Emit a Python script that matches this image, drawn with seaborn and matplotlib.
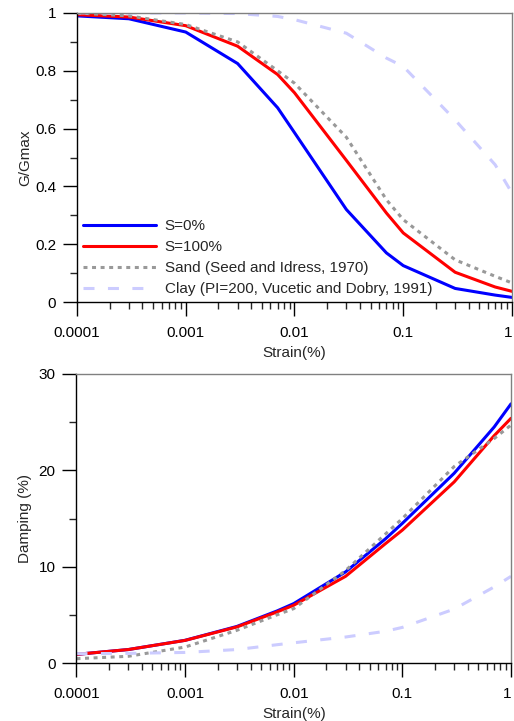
import numpy as np
import pandas as pd
import seaborn as sns
import matplotlib.pyplot as plt
import matplotlib.transforms as mtransforms
from matplotlib.ticker import FuncFormatter, MultipleLocator, LogLocator

# strain levels (%)
strain = [0.0001, 0.0003, 0.001, 0.003, 0.007, 0.01, 0.03, 0.07, 0.1, 0.3, 0.7, 1]

# G/Gmax curves
g_s0 = [0.99, 0.98, 0.934, 0.825, 0.672, 0.586, 0.32, 0.17, 0.126, 0.047, 0.024, 0.016]
g_s100 = [0.994, 0.986, 0.956, 0.885, 0.787, 0.724, 0.49, 0.308, 0.239, 0.103, 0.052, 0.037]
g_sand = [1.0, 0.99, 0.96, 0.90, 0.80, 0.757, 0.57, 0.354, 0.285, 0.146, 0.089, 0.066]
g_clay = [1.0, 1.0, 1.0, 0.998, 0.988, 0.977, 0.93, 0.844, 0.815, 0.63, 0.475, 0.377]

# damping curves (%)
d_s0 = [0.9, 1.4, 2.36, 3.8, 5.4, 6.17, 9.46, 12.9, 14.5, 19.7, 24.5, 26.9]
d_s100 = [0.9, 1.4, 2.35, 3.75, 5.3, 6.0, 9.0, 12.4, 13.8, 18.8, 23.6, 25.4]
d_sand = [0.45, 0.7, 1.66, 3.4, 5.0, 5.65, 9.6, 13.4, 15.0, 20.4, 23.3, 24.7]
d_clay = [0.97, 1.0, 1.1, 1.4, 1.9, 2.1, 2.7, 3.3, 3.7, 5.6, 7.9, 9.0]

labels = ["S=0%", "S=100%", "Sand (Seed and Idress, 1970)",
          "Clay (PI=200, Vucetic and Dobry, 1991)"]

sns.set_style("ticks")
plt.rcParams['font.family'] = ['Liberation Sans', 'DejaVu Sans']
plt.rcParams['font.size'] = 11

styles = [
    dict(color="#0000ff", linestyle="-"),
    dict(color="#ff0000", linestyle="-"),
    dict(color="#999999", linestyle=(0, (1.3, 1.5))),
    dict(color="#ccccff", linestyle=(0, (3.6, 4.4))),
]

fig = plt.figure(figsize=(5.14, 7.21), dpi=100)
ax1 = fig.add_axes([0.1498, 0.5811, 0.8463, 0.4009])
ax2 = fig.add_axes([0.1488, 0.0804, 0.8454, 0.4009])


def style_axis(ax, ylim, ymajor, yminor):
    ax.set_xscale("log")
    ax.set_xlim(0.0001, 1)
    ax.set_ylim(*ylim)
    ax.yaxis.set_major_locator(MultipleLocator(ymajor))
    ax.yaxis.set_minor_locator(MultipleLocator(yminor))
    ax.xaxis.set_major_locator(LogLocator(base=10))
    ax.xaxis.set_minor_locator(LogLocator(base=10, subs=np.arange(2, 10)))
    fmt = FuncFormatter(lambda v, p: "{:g}".format(round(v, 6)))
    ax.xaxis.set_major_formatter(fmt)
    ax.yaxis.set_major_formatter(fmt)
    ax.tick_params(which="major", direction="out", length=10, width=1,
                   labelsize=11, pad=5, colors="black")
    ax.tick_params(axis="x", which="major", pad=7)
    ax.tick_params(which="minor", direction="out", length=5, width=1)
    ax.tick_params(top=False, right=False, which="both")
    for s in ["top", "right"]:
        ax.spines[s].set_color("#808080")
    for s in ["left", "bottom"]:
        ax.spines[s].set_color("black")
    for s in ax.spines.values():
        s.set_linewidth(1)
    ax.set_xlabel("Strain(%)", fontsize=11, labelpad=4.5)


for ys, lab, st in zip([g_s0, g_s100, g_sand, g_clay], labels, styles):
    sns.lineplot(x=strain, y=ys, ax=ax1, label=lab, linewidth=2.2,
                 color=st["color"], linestyle=st["linestyle"])
for ys, st in zip([d_s0, d_s100, d_sand, d_clay], styles):
    sns.lineplot(x=strain, y=ys, ax=ax2, linewidth=2.2,
                 color=st["color"], linestyle=st["linestyle"])

style_axis(ax1, (0, 1), 0.2, 0.1)
style_axis(ax2, (0, 30), 10, 5)
ax1.set_ylabel("G/Gmax", fontsize=11)
ax2.set_ylabel("Damping (%)", fontsize=11)
ax1.yaxis.set_label_coords(-0.103, 0.5)
ax2.yaxis.set_label_coords(-0.103, 0.5)

ax1.legend(loc="lower left", frameon=False, fontsize=11, handlelength=4.8,
           handletextpad=0.55, labelspacing=0.45, borderaxespad=0.2,
           borderpad=0.2)

# keep the "1" label at the right edge inside the figure
shift = mtransforms.ScaledTranslation(-2.5 / 72, 0, fig.dpi_scale_trans)
fig.canvas.draw()
for ax in (ax1, ax2):
    for lbl in ax.get_xticklabels():
        if lbl.get_text() == "1":
            lbl.set_transform(lbl.get_transform() + shift)

fig.savefig("out.png", dpi=100)
